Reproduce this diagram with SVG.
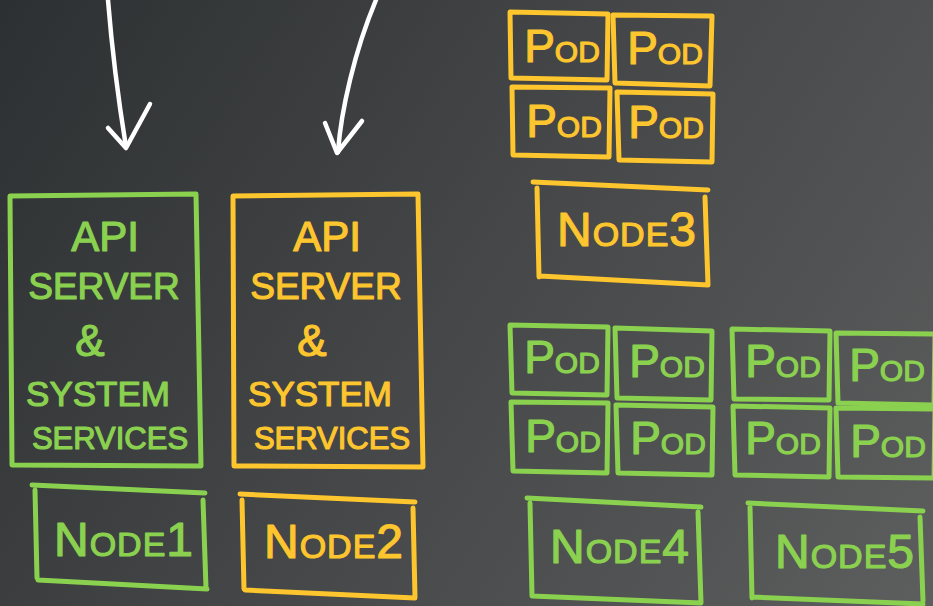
<svg xmlns="http://www.w3.org/2000/svg" width="933" height="606" viewBox="0 0 933 606">
<defs>
<linearGradient id="bg" x1="0" y1="0" x2="933" y2="606" gradientUnits="userSpaceOnUse">
<stop offset="0" stop-color="#2d3032"/>
<stop offset="1" stop-color="#5d5e5e"/>
</linearGradient>
</defs>
<style>
.g{fill:none;stroke:#8bd150;stroke-width:5;stroke-linecap:round;stroke-linejoin:round}
.y{fill:none;stroke:#fdc52e;stroke-width:5;stroke-linecap:round;stroke-linejoin:round}
.w{fill:none;stroke:#ffffff;stroke-width:4.5;stroke-linecap:round;stroke-linejoin:round}
text{font-family:"Liberation Sans",Arial,sans-serif;text-anchor:middle;stroke-width:1.2;stroke-linejoin:round}
.tg{fill:#8bd150;stroke:#8bd150}
.ty{fill:#fdc52e;stroke:#fdc52e}
.big{font-size:46px}
.sm{font-size:30px}
.nb{font-size:48px}
.ns{font-size:34px}
.nt{letter-spacing:1px}
</style>
<rect width="933" height="606" fill="url(#bg)"/>
<g id="connectors">
<path class="w" d="M108,0 C112,50 120,110 126,147"/>
<path class="w" d="M108,128 L126,148 L150,104"/>
<path class="w" d="M376,0 C355,50 341,110 338,152"/>
<path class="w" d="M325,123 L337,153 L362,121"/>
</g>
<g id="api1">
<path class="g" d="M10,196 L196,194 L201,466 L12,465 Z"/>
<text class="tg" x="105" y="251" style="font-size:42px">API</text>
<text class="tg" x="104" y="299" style="font-size:37px">SERVER</text>
<text class="tg" x="90" y="356" style="font-size:44px">&amp;</text>
<text class="tg" x="98" y="406" style="font-size:35px">SYSTEM</text>
<text class="tg" x="110" y="449" style="font-size:31px">SERVICES</text>
</g>
<g id="api2">
<path class="y" d="M233,196 L418,194 L423,467 L234,466 Z"/>
<text class="ty" x="327" y="251" style="font-size:42px">API</text>
<text class="ty" x="326" y="299" style="font-size:37px">SERVER</text>
<text class="ty" x="312" y="356" style="font-size:44px">&amp;</text>
<text class="ty" x="320" y="406" style="font-size:35px">SYSTEM</text>
<text class="ty" x="332" y="449" style="font-size:31px">SERVICES</text>
</g>
<g id="node1">
<path class="g" d="M32,485 L205,493 M35,490 L37,578 M203,500 L206,588 M38,580 L207,589"/>
<text class="tg nt" x="124" y="556"><tspan class="nb">N</tspan><tspan class="ns">ODE</tspan><tspan class="nb">1</tspan></text>
</g>
<g id="node2">
<path class="y" d="M240,494 L415,502 M242,500 L244,589 M413,508 L415,597 M245,590 L415,598"/>
<text class="ty nt" x="334" y="558"><tspan class="nb">N</tspan><tspan class="ns">ODE</tspan><tspan class="nb">2</tspan></text>
</g>
<g id="node3">
<path class="y" d="M533,182 L708,190 M537,188 L539,277 M705,197 L708,285 M540,276 L708,285"/>
<text class="ty nt" x="627" y="246"><tspan class="nb">N</tspan><tspan class="ns">ODE</tspan><tspan class="nb">3</tspan></text>
</g>
<g id="node4">
<path class="g" d="M527,498 L701,507 M530,503 L532,596 M698,512 L701,603 M532,596 L701,603"/>
<text class="tg nt" x="620" y="563"><tspan class="nb">N</tspan><tspan class="ns">ODE</tspan><tspan class="nb">4</tspan></text>
</g>
<g id="node5">
<path class="g" d="M748,503 L923,511 M750,507 L752,598 M920,517 L923,601 M752,597 L923,604"/>
<text class="tg nt" x="845" y="568"><tspan class="nb">N</tspan><tspan class="ns">ODE</tspan><tspan class="nb">5</tspan></text>
</g>
<g id="pod3a"><path class="y" d="M510,12 L608,14 L607,80 L511,78 Z"/><text class="ty" x="562" y="62"><tspan class="big">P</tspan><tspan class="sm">OD</tspan></text></g>
<g id="pod3b"><path class="y" d="M613,15 L712,16 L710,86 L615,83 Z"/><text class="ty" x="665" y="64"><tspan class="big">P</tspan><tspan class="sm">OD</tspan></text></g>
<g id="pod3c"><path class="y" d="M512,87 L610,88 L609,157 L513,155 Z"/><text class="ty" x="564" y="137"><tspan class="big">P</tspan><tspan class="sm">OD</tspan></text></g>
<g id="pod3d"><path class="y" d="M617,92 L713,94 L712,162 L619,160 Z"/><text class="ty" x="666" y="138"><tspan class="big">P</tspan><tspan class="sm">OD</tspan></text></g>
<g id="pod4a"><path class="g" d="M510,325 L608,327 L607,395 L512,393 Z"/><text class="tg" x="562" y="373"><tspan class="big">P</tspan><tspan class="sm">OD</tspan></text></g>
<g id="pod4b"><path class="g" d="M615,328 L712,331 L711,400 L617,398 Z"/><text class="tg" x="667" y="377"><tspan class="big">P</tspan><tspan class="sm">OD</tspan></text></g>
<g id="pod4c"><path class="g" d="M511,402 L608,403 L607,473 L513,471 Z"/><text class="tg" x="563" y="452"><tspan class="big">P</tspan><tspan class="sm">OD</tspan></text></g>
<g id="pod4d"><path class="g" d="M616,405 L713,407 L712,475 L618,473 Z"/><text class="tg" x="668" y="454"><tspan class="big">P</tspan><tspan class="sm">OD</tspan></text></g>
<g id="pod5a"><path class="g" d="M732,329 L830,331 L829,400 L734,399 Z"/><text class="tg" x="783" y="377"><tspan class="big">P</tspan><tspan class="sm">OD</tspan></text></g>
<g id="pod5b"><path class="g" d="M836,333 L935,334 L934,405 L838,403 Z"/><text class="tg" x="887" y="381"><tspan class="big">P</tspan><tspan class="sm">OD</tspan></text></g>
<g id="pod5c"><path class="g" d="M733,406 L830,408 L829,477 L735,475 Z"/><text class="tg" x="783" y="454"><tspan class="big">P</tspan><tspan class="sm">OD</tspan></text></g>
<g id="pod5d"><path class="g" d="M836,408 L935,409 L934,478 L838,477 Z"/><text class="tg" x="888" y="457"><tspan class="big">P</tspan><tspan class="sm">OD</tspan></text></g>
</svg>
